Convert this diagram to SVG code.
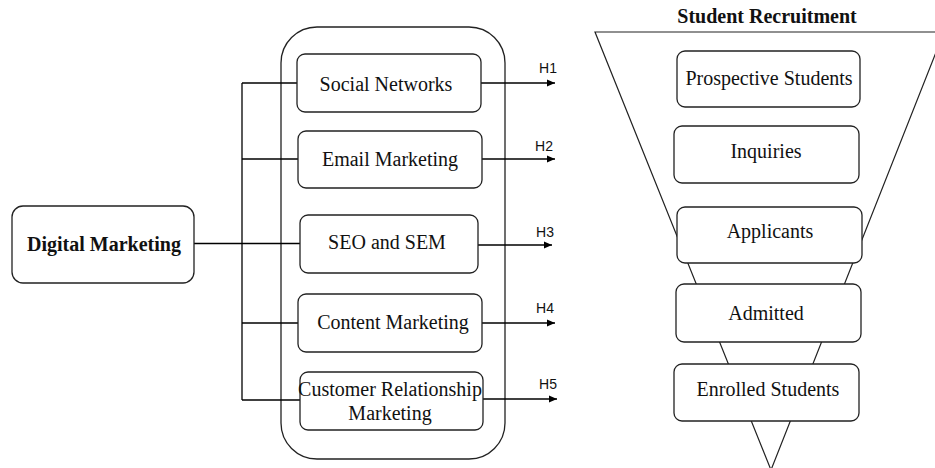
<svg xmlns="http://www.w3.org/2000/svg" width="935" height="468" viewBox="0 0 935 468">
<defs>
<marker id="arr" markerWidth="8" markerHeight="8" refX="8" refY="4" orient="auto" markerUnits="userSpaceOnUse">
<path d="M0,0.5 L8,4 L0,7.5 Z" fill="#000"/>
</marker>
</defs>
<style>
.box{fill:#fff;stroke:#222;stroke-width:1.3}
.ln{fill:none;stroke:#000;stroke-width:1.3}
.t{font-family:"Liberation Serif","Times New Roman",serif;font-size:20px;fill:#111;text-anchor:middle}
.b{font-weight:bold}
.h{font-family:"Liberation Sans",Arial,sans-serif;font-size:14px;fill:#111;text-anchor:middle}
</style>
<rect width="935" height="468" fill="#fff"/>

<g id="funnel">
<polygon points="595,32 944,32 771,470" fill="#fff" stroke="#222" stroke-width="1.2"/>
</g>

<g id="container">
<rect x="281" y="27" width="224" height="432" rx="36" class="box"/>
</g>

<g id="connectors">
<path class="ln" d="M194,243.5 H300"/>
<path class="ln" d="M242,83 V400"/>
<path class="ln" d="M242,83 H297"/>
<path class="ln" d="M242,159 H298"/>
<path class="ln" d="M242,323 H298"/>
<path class="ln" d="M242,400 H300"/>
<path class="ln" d="M481,83 H555" marker-end="url(#arr)"/>
<path class="ln" d="M482,159 H555" marker-end="url(#arr)"/>
<path class="ln" d="M478,245 H552" marker-end="url(#arr)"/>
<path class="ln" d="M482,323 H555" marker-end="url(#arr)"/>
<path class="ln" d="M483,399 H557" marker-end="url(#arr)"/>
<text class="h" x="548" y="73">H1</text>
<text class="h" x="544" y="151">H2</text>
<text class="h" x="545" y="237">H3</text>
<text class="h" x="545" y="313">H4</text>
<text class="h" x="548" y="389">H5</text>
</g>

<g id="digital-marketing">
<rect x="12" y="206" width="182" height="77" rx="11" class="box"/>
<text class="t b" x="104" y="251">Digital Marketing</text>
</g>

<g id="social-networks">
<rect x="297" y="54" width="184" height="58" rx="8" class="box"/>
<text class="t" x="386" y="91">Social Networks</text>
</g>
<g id="email-marketing">
<rect x="298" y="131" width="184" height="57" rx="8" class="box"/>
<text class="t" x="390" y="166">Email Marketing</text>
</g>
<g id="seo-sem">
<rect x="300" y="215" width="178" height="58" rx="8" class="box"/>
<text class="t" x="387" y="249">SEO and SEM</text>
</g>
<g id="content-marketing">
<rect x="298" y="294" width="184" height="58" rx="8" class="box"/>
<text class="t" x="393" y="329">Content Marketing</text>
</g>
<g id="crm">
<rect x="300" y="372" width="183" height="58" rx="8" class="box"/>
<text class="t" x="390" y="396">Customer Relationship</text>
<text class="t" x="390" y="420">Marketing</text>
</g>

<text class="t b" x="767" y="23">Student Recruitment</text>

<g id="prospective-students">
<rect x="677" y="51" width="183" height="56" rx="8" class="box"/>
<text class="t" x="769" y="85">Prospective Students</text>
</g>
<g id="inquiries">
<rect x="674" y="126" width="185" height="57" rx="8" class="box"/>
<text class="t" x="766" y="158">Inquiries</text>
</g>
<g id="applicants">
<rect x="677" y="207" width="185" height="56" rx="8" class="box"/>
<text class="t" x="770" y="238">Applicants</text>
</g>
<g id="admitted">
<rect x="676" y="284" width="185" height="58" rx="8" class="box"/>
<text class="t" x="766" y="320">Admitted</text>
</g>
<g id="enrolled-students">
<rect x="674" y="364" width="185" height="57" rx="8" class="box"/>
<text class="t" x="768" y="396">Enrolled Students</text>
</g>
</svg>
